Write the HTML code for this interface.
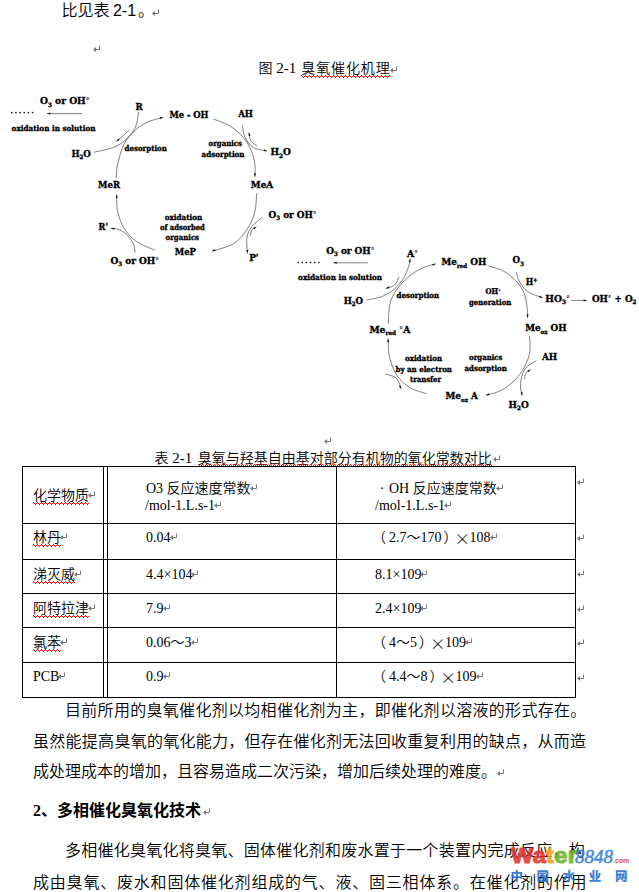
<!DOCTYPE html>
<html lang="zh">
<head>
<meta charset="utf-8">
<title>臭氧催化机理</title>
<style>
html,body{margin:0;padding:0;background:#fff;}
body{width:639px;height:892px;position:relative;overflow:hidden;color:#000;
  font-family:"Liberation Serif","Noto Serif CJK SC",serif;}
.abs{position:absolute;white-space:nowrap;line-height:1;}
.body16{font-weight:350;font-size:16px;font-family:"Liberation Serif","Noto Sans CJK SC",sans-serif;}
.t14{font-weight:350;font-size:14px;font-family:"Liberation Serif","Noto Sans CJK SC",sans-serif;}
.pm{color:#7a7a7a;font-family:"DejaVu Sans",sans-serif;font-size:9px;}
.wavy{position:relative;display:inline-block;}
.wavy svg{position:absolute;left:0;bottom:-2px;width:100%;height:3px;display:block;}
.pmb{display:block;}
.pmi{display:inline-block;vertical-align:1px;margin-left:-1px;}
.lp{margin-left:-3px;margin-right:3px;}
.rp{margin-left:2px;margin-right:-2px;}
.fx{display:inline-block;vertical-align:top;height:14px;width:14px;margin-left:-1px;margin-right:1px;text-align:center;font-size:15.5px;line-height:14px;font-weight:300;font-family:"Noto Sans CJK SC",sans-serif;}
.fd{display:inline-block;width:14px;text-align:center;}
.hl{position:absolute;background:#000;height:1px;}
.vl{position:absolute;background:#000;width:1px;}
#dia{position:absolute;left:0;top:0;}
#dia text{font-family:"DejaVu Serif Condensed","DejaVu Serif","Liberation Serif",serif;font-weight:bold;fill:#000;stroke:#000;stroke-width:0.32px;}
</style>
</head>
<body>
<svg width="0" height="0" style="position:absolute"><defs><pattern id="zz" width="4" height="3" patternUnits="userSpaceOnUse"><path d="M0,0h1v1h-1zM1,1h1v1h-1zM2,2h1v1h-1zM3,1h1v1h-1z" fill="#ff0000" shape-rendering="crispEdges"/></pattern></defs></svg>
<!-- top line -->
<div class="abs" style="left:61.5px;top:3px;font-size:16px;font-weight:350;font-family:'Liberation Sans','Noto Sans CJK SC',sans-serif;"><span>比见表</span><span style="margin-left:-1px;"> 2-1</span><span style="margin-left:2px;">。</span></div>
<div class="abs" style="left:152px;top:9px;"><svg class="pmb" width="8" height="8" viewBox="0 0 8 8"><path d="M6.5 0.5v4H2" stroke="#777" fill="none" stroke-width="1"/><path d="M0 4.5l3-2.6v5.2z" fill="#777"/></svg></div>
<div class="abs" style="left:93px;top:45px;"><svg class="pmb" width="8" height="8" viewBox="0 0 8 8"><path d="M6.5 0.5v4H2" stroke="#777" fill="none" stroke-width="1"/><path d="M0 4.5l3-2.6v5.2z" fill="#777"/></svg></div>
<div class="abs t14" style="left:258.5px;top:61px;">图<span style="font-size:15px;"> 2-1</span><span style="margin-left:5px;letter-spacing:0.9px;" class="wavy">臭氧催化机理<svg><rect width="100%" height="3" fill="url(#zz)"/></svg></span></div>
<div class="abs" style="left:390px;top:66px;"><svg class="pmb" width="8" height="8" viewBox="0 0 8 8"><path d="M6.5 0.5v4H2" stroke="#777" fill="none" stroke-width="1"/><path d="M0 4.5l3-2.6v5.2z" fill="#777"/></svg></div>

<!-- diagrams -->
<svg id="dia" width="639" height="460" viewBox="0 0 639 460">
<g fill="none" stroke="#303030" stroke-width="0.62">
<path d="M116.3,178.3 C116.5,176.1 116.2,170.6 117.5,165.0 C118.8,159.4 120.9,150.3 123.8,144.5 C126.7,138.7 131.0,134.2 135.0,130.4 C139.0,126.7 143.3,124.2 148.0,122.0 C152.7,119.8 160.8,118.0 163.3,117.2"/>
<path d="M213.5,119.0 C216.2,120.2 225.1,123.0 230.0,126.0 C234.9,129.1 239.6,133.1 243.2,137.3 C246.8,141.5 249.7,146.9 251.6,151.3 C253.5,155.8 254.2,159.8 254.8,164.0 C255.4,168.2 255.0,174.6 255.0,176.7"/>
<path d="M256.8,193.1 C256.4,196.4 256.2,206.9 254.6,212.9 C253.0,218.9 250.5,224.2 247.0,229.3 C243.5,234.4 239.7,239.8 233.8,243.5 C228.0,247.2 215.6,249.9 211.9,251.2"/>
<path d="M155.1,250.4 C152.0,248.9 141.5,245.1 136.3,241.4 C131.1,237.7 127.2,233.2 124.1,228.2 C121.0,223.2 118.8,216.9 117.6,211.3 C116.3,205.7 116.8,197.2 116.6,194.4"/>
<path d="M138.5,112.0 C138.1,114.3 137.5,121.7 136.0,125.7 C134.5,129.7 132.8,132.6 129.5,136.0 C126.2,139.4 122.2,143.6 116.3,146.3 C110.4,149.0 97.7,151.3 94.0,152.3"/>
<path d="M129.5,130.0 C127.3,131.9 118.5,139.7 116.3,141.6"/>
<path d="M242.3,125.4 C242.8,127.4 243.1,133.6 245.0,137.3 C246.9,141.0 249.8,145.3 253.5,147.6 C257.2,149.9 264.9,150.4 267.2,151.0"/>
<path d="M257.3,145.7 C256.2,144.9 252.4,143.2 251.0,141.0 C249.6,138.8 249.2,134.0 248.8,132.6"/>
<path d="M262.3,217.2 C260.7,218.7 255.0,222.7 252.4,226.0 C249.8,229.3 247.8,232.4 247.0,237.0 C246.2,241.6 247.3,250.7 247.4,253.4"/>
<path d="M250.3,235.9 C250.6,234.9 251.0,231.5 252.0,230.0 C253.0,228.5 255.7,227.2 256.4,226.7"/>
<path d="M135.0,252.6 C134.8,251.2 134.8,247.2 133.5,244.2 C132.2,241.2 129.3,237.2 127.0,234.8 C124.7,232.4 122.1,230.8 119.4,229.7 C116.7,228.6 112.4,228.4 111.0,228.2"/>
<path d="M82.0,113.6 C76.2,113.6 52.8,113.6 47.0,113.6"/>
<path d="M388.2,323.6 C388.5,320.3 388.6,309.4 390.0,303.8 C391.4,298.2 393.5,294.3 396.6,289.8 C399.7,285.3 404.6,280.2 408.8,276.6 C413.0,273.0 417.5,270.3 422.0,268.2 C426.5,266.1 433.4,264.5 435.7,263.8"/>
<path d="M488.6,265.9 C491.0,266.8 498.9,268.8 503.2,271.0 C507.5,273.2 511.2,276.1 514.5,279.4 C517.8,282.7 521.0,286.6 523.0,290.7 C525.0,294.8 525.9,299.3 526.7,303.8 C527.5,308.3 527.5,315.5 527.7,317.9"/>
<path d="M529.5,336.0 C529.5,338.6 530.6,346.7 529.8,351.9 C528.9,357.1 526.9,362.4 524.4,367.2 C521.9,371.9 518.4,376.5 514.5,380.4 C510.6,384.2 506.1,387.8 501.3,390.3 C496.6,392.8 488.6,394.5 486.0,395.3"/>
<path d="M426.8,393.8 C424.1,392.8 415.3,390.9 410.4,387.9 C405.5,384.9 400.7,381.0 397.2,375.9 C393.7,370.8 391.1,363.4 389.6,357.2 C388.1,351.0 388.3,341.7 388.0,338.6"/>
<path d="M366.6,300.1 C369.2,299.5 377.6,298.3 382.5,296.3 C387.4,294.3 391.9,291.3 395.7,287.9 C399.4,284.5 402.8,279.6 405.0,275.7 C407.2,271.8 408.3,267.2 409.2,264.4 C410.1,261.6 410.0,259.7 410.1,258.8"/>
<path d="M398.9,276.6 C398.2,278.0 396.9,283.0 394.7,285.0 C392.5,287.0 387.4,287.9 385.9,288.5"/>
<path d="M516.4,272.3 C516.9,273.8 517.3,278.1 519.2,281.3 C521.1,284.5 523.8,288.9 527.7,291.6 C531.6,294.4 540.2,296.8 542.7,297.8"/>
<path d="M536.4,360.7 C534.9,361.6 530.0,363.8 527.6,366.2 C525.2,368.6 523.4,371.4 522.2,374.9 C521.0,378.4 520.6,383.5 520.6,387.0 C520.6,390.5 521.9,394.2 522.2,395.7"/>
<path d="M524.4,379.3 C524.7,378.2 525.0,374.6 526.0,373.0 C527.0,371.4 529.8,370.0 530.5,369.4"/>
<path d="M385.2,374.1 C387.0,374.8 393.5,375.5 396.2,378.0 C398.9,380.5 400.4,387.2 401.2,389.0"/>
<path d="M571.2,300.4 C573.8,300.4 584.4,300.4 587.0,300.4"/>
<path d="M367.8,262.8 C362.1,262.8 339.1,262.8 333.4,262.8"/>
</g><g fill="#111" stroke="none">
<polygon points="163.3,117.2 160.4,119.2 159.8,117.3"/>
<polygon points="255.0,176.7 253.9,173.3 255.9,173.3"/>
<polygon points="211.9,251.2 214.8,249.1 215.4,251.0"/>
<polygon points="116.6,194.4 117.8,197.7 115.8,197.9"/>
<polygon points="116.3,141.6 118.2,138.6 119.5,140.1"/>
<polygon points="267.2,151.0 263.7,151.2 264.1,149.2"/>
<polygon points="248.8,132.6 250.6,135.6 248.7,136.1"/>
<polygon points="247.4,253.4 246.3,250.0 248.3,250.0"/>
<polygon points="256.4,226.7 254.3,229.5 253.1,227.9"/>
<polygon points="111.0,228.2 114.5,227.8 114.2,229.8"/>
<polygon points="47.0,113.6 50.4,112.6 50.4,114.6"/>
<polygon points="435.7,263.8 432.8,265.8 432.2,263.9"/>
<polygon points="527.7,317.9 526.5,314.6 528.5,314.4"/>
<polygon points="486.0,395.3 488.9,393.3 489.5,395.2"/>
<polygon points="388.0,338.6 389.3,341.9 387.3,342.1"/>
<polygon points="410.1,258.8 410.5,262.3 408.6,262.0"/>
<polygon points="385.9,288.5 388.7,286.3 389.4,288.2"/>
<polygon points="542.7,297.8 539.2,297.4 539.9,295.6"/>
<polygon points="522.2,395.7 520.6,392.5 522.6,392.2"/>
<polygon points="530.5,369.4 528.5,372.3 527.2,370.7"/>
<polygon points="401.2,389.0 398.9,386.3 400.7,385.5"/>
<polygon points="587.0,300.4 583.6,301.4 583.6,299.4"/>
<polygon points="333.4,262.8 336.8,261.8 336.8,263.8"/>
<rect x="11.0" y="111.9" width="1.5" height="1.4"/>
<rect x="15.2" y="111.9" width="1.5" height="1.4"/>
<rect x="19.3" y="111.9" width="1.5" height="1.4"/>
<rect x="23.5" y="111.9" width="1.5" height="1.4"/>
<rect x="27.6" y="111.9" width="1.5" height="1.4"/>
<rect x="31.8" y="111.9" width="1.5" height="1.4"/>
<rect x="297.4" y="261.8" width="1.5" height="1.4"/>
<rect x="301.5" y="261.8" width="1.5" height="1.4"/>
<rect x="305.7" y="261.8" width="1.5" height="1.4"/>
<rect x="309.8" y="261.8" width="1.5" height="1.4"/>
<rect x="314.0" y="261.8" width="1.5" height="1.4"/>
<rect x="318.1" y="261.8" width="1.5" height="1.4"/>
</g>
<text id="t0" transform="translate(40.00,104.30) scale(1.0578,1)" font-size="9.6" textLength="46.80" lengthAdjust="spacingAndGlyphs">O<tspan dy="2.50" font-size="5.95">3</tspan><tspan dy="-2.50"> or OH</tspan><tspan dy="-0.96" font-size="7.87" style="font-weight:normal;stroke-width:0.1px">°</tspan></text>
<text id="t1" transform="translate(135.50,109.50) scale(0.9000,1)" font-size="9.6" textLength="8.00" lengthAdjust="spacingAndGlyphs">R</text>
<text id="t2" transform="translate(169.40,118.30) scale(0.9699,1)" font-size="9.6" textLength="40.31" lengthAdjust="spacingAndGlyphs">Me - OH</text>
<text id="t3" transform="translate(238.20,116.80) scale(0.9332,1)" font-size="9.6" textLength="15.86" lengthAdjust="spacingAndGlyphs">AH</text>
<text id="t4" transform="translate(71.40,156.60) scale(0.9761,1)" font-size="9.6" textLength="19.88" lengthAdjust="spacingAndGlyphs">H<tspan dy="2.50" font-size="5.95">2</tspan><tspan dy="-2.50">O</tspan></text>
<text id="t5" transform="translate(98.00,188.40) scale(0.9546,1)" font-size="9.6" textLength="23.05" lengthAdjust="spacingAndGlyphs">MeR</text>
<text id="t6" transform="translate(98.60,229.60) scale(0.9564,1)" font-size="9.6" textLength="9.83" lengthAdjust="spacingAndGlyphs">R'</text>
<text id="t7" transform="translate(110.50,263.90) scale(1.0364,1)" font-size="9.6" textLength="46.80" lengthAdjust="spacingAndGlyphs">O<tspan dy="2.50" font-size="5.95">3</tspan><tspan dy="-2.50"> or OH</tspan><tspan dy="-0.96" font-size="7.87" style="font-weight:normal;stroke-width:0.1px">°</tspan></text>
<text id="t8" transform="translate(174.70,255.10) scale(0.9661,1)" font-size="9.6" textLength="22.05" lengthAdjust="spacingAndGlyphs">MeP</text>
<text id="t9" transform="translate(270.50,155.30) scale(1.0214,1)" font-size="9.6" textLength="19.88" lengthAdjust="spacingAndGlyphs">H<tspan dy="2.50" font-size="5.95">2</tspan><tspan dy="-2.50">O</tspan></text>
<text id="t10" transform="translate(250.80,187.80) scale(1.0206,1)" font-size="9.6" textLength="22.05" lengthAdjust="spacingAndGlyphs">MeA</text>
<text id="t11" transform="translate(268.60,217.60) scale(1.0236,1)" font-size="9.6" textLength="46.80" lengthAdjust="spacingAndGlyphs">O<tspan dy="2.50" font-size="5.95">3</tspan><tspan dy="-2.50"> or OH</tspan><tspan dy="-0.96" font-size="7.87" style="font-weight:normal;stroke-width:0.1px">°</tspan></text>
<text id="t12" transform="translate(249.20,261.30) scale(1.0284,1)" font-size="9.6" textLength="9.14" lengthAdjust="spacingAndGlyphs">P'</text>
<text id="t13" transform="translate(11.60,130.90) scale(1.0185,1)" font-size="7.9" textLength="82.38" lengthAdjust="spacingAndGlyphs">oxidation in solution</text>
<text id="t14" transform="translate(124.60,150.80) scale(0.9861,1)" font-size="7.9" textLength="42.80" lengthAdjust="spacingAndGlyphs">desorption</text>
<text id="t15" transform="translate(208.50,146.30) scale(0.9789,1)" font-size="7.9" textLength="34.22" lengthAdjust="spacingAndGlyphs">organics</text>
<text id="t16" transform="translate(201.60,157.30) scale(1.0006,1)" font-size="7.9" textLength="42.88" lengthAdjust="spacingAndGlyphs">adsorption</text>
<text id="t17" transform="translate(164.70,219.80) scale(1.0132,1)" font-size="7.9" textLength="37.11" lengthAdjust="spacingAndGlyphs">oxidation</text>
<text id="t18" transform="translate(160.00,230.20) scale(0.9579,1)" font-size="7.9" textLength="46.77" lengthAdjust="spacingAndGlyphs">of adsorbed</text>
<text id="t19" transform="translate(165.60,239.80) scale(0.9760,1)" font-size="7.9" textLength="34.22" lengthAdjust="spacingAndGlyphs">organics</text>
<text id="t20" transform="translate(326.20,253.80) scale(1.0300,1)" font-size="9.6" textLength="46.80" lengthAdjust="spacingAndGlyphs">O<tspan dy="2.50" font-size="5.95">3</tspan><tspan dy="-2.50"> or OH</tspan><tspan dy="-0.96" font-size="7.87" style="font-weight:normal;stroke-width:0.1px">°</tspan></text>
<text id="t21" transform="translate(407.00,256.70) scale(0.9778,1)" font-size="9.6" textLength="11.25" lengthAdjust="spacingAndGlyphs">A<tspan dy="-0.96" font-size="7.87" style="font-weight:normal;stroke-width:0.1px">°</tspan></text>
<text id="t22" transform="translate(441.50,265.20) scale(1.0255,1)" font-size="9.6" textLength="43.69" lengthAdjust="spacingAndGlyphs">Me<tspan dy="2.50" font-size="5.95">red</tspan><tspan dy="-2.50"> OH</tspan></text>
<text id="t23" transform="translate(512.60,263.30) scale(0.9799,1)" font-size="9.6" textLength="11.53" lengthAdjust="spacingAndGlyphs">O<tspan dy="2.50" font-size="5.95">3</tspan></text>
<text id="t24" transform="translate(525.80,285.20) scale(0.9177,1)" font-size="9.6" textLength="12.64" lengthAdjust="spacingAndGlyphs">H<tspan dy="-3.46" font-size="5.95">+</tspan></text>
<text id="t25" transform="translate(545.30,301.80) scale(1.0630,1)" font-size="9.6" textLength="22.95" lengthAdjust="spacingAndGlyphs">HO<tspan dy="2.50" font-size="5.95">3</tspan><tspan dy="-3.46" font-size="7.87" style="font-weight:normal;stroke-width:0.1px">°</tspan></text>
<text id="t26" transform="translate(591.90,301.80) scale(1.0114,1)" font-size="9.6" textLength="44.00" lengthAdjust="spacingAndGlyphs">OH<tspan dy="-0.96" font-size="7.87" style="font-weight:normal;stroke-width:0.1px">°</tspan><tspan dy="0.96"> + O</tspan><tspan dy="2.50" font-size="5.95">2</tspan></text>
<text id="t27" transform="translate(343.70,303.80) scale(0.9711,1)" font-size="9.6" textLength="19.88" lengthAdjust="spacingAndGlyphs">H<tspan dy="2.50" font-size="5.95">2</tspan><tspan dy="-2.50">O</tspan></text>
<text id="t28" transform="translate(369.40,332.50) scale(1.0606,1)" font-size="9.6" textLength="38.56" lengthAdjust="spacingAndGlyphs">Me<tspan dy="2.50" font-size="5.95">red</tspan><tspan dy="-2.50"> </tspan><tspan dy="-0.96" font-size="7.87" style="font-weight:normal;stroke-width:0.1px">°</tspan><tspan dy="0.96">A</tspan></text>
<text id="t29" transform="translate(525.20,331.00) scale(1.0201,1)" font-size="9.6" textLength="40.48" lengthAdjust="spacingAndGlyphs">Me<tspan dy="2.50" font-size="5.95">ox</tspan><tspan dy="-2.50"> OH</tspan></text>
<text id="t30" transform="translate(541.90,360.00) scale(0.9647,1)" font-size="9.6" textLength="15.86" lengthAdjust="spacingAndGlyphs">AH</text>
<text id="t31" transform="translate(445.50,399.00) scale(1.0220,1)" font-size="9.6" textLength="31.80" lengthAdjust="spacingAndGlyphs">Me<tspan dy="2.50" font-size="5.95">ox</tspan><tspan dy="-2.50"> A</tspan></text>
<text id="t32" transform="translate(508.60,407.60) scale(1.0113,1)" font-size="9.6" textLength="19.88" lengthAdjust="spacingAndGlyphs">H<tspan dy="2.50" font-size="5.95">2</tspan><tspan dy="-2.50">O</tspan></text>
<text id="t33" transform="translate(298.10,280.00) scale(1.0185,1)" font-size="7.9" textLength="82.38" lengthAdjust="spacingAndGlyphs">oxidation in solution</text>
<text id="t34" transform="translate(396.60,298.10) scale(0.9954,1)" font-size="7.9" textLength="42.80" lengthAdjust="spacingAndGlyphs">desorption</text>
<text id="t35" transform="translate(485.40,294.40) scale(0.9807,1)" font-size="7.9" textLength="15.91" lengthAdjust="spacingAndGlyphs">OH<tspan dy="-0.79" font-size="6.48" style="font-weight:normal;stroke-width:0.1px">°</tspan></text>
<text id="t36" transform="translate(469.00,304.70) scale(0.9752,1)" font-size="7.9" textLength="43.38" lengthAdjust="spacingAndGlyphs">generation</text>
<text id="t37" transform="translate(469.10,360.30) scale(0.9731,1)" font-size="7.9" textLength="34.22" lengthAdjust="spacingAndGlyphs">organics</text>
<text id="t38" transform="translate(464.50,371.10) scale(0.9866,1)" font-size="7.9" textLength="42.88" lengthAdjust="spacingAndGlyphs">adsorption</text>
<text id="t39" transform="translate(404.90,361.10) scale(1.0051,1)" font-size="7.9" textLength="37.11" lengthAdjust="spacingAndGlyphs">oxidation</text>
<text id="t40" transform="translate(395.50,372.10) scale(0.9953,1)" font-size="7.9" textLength="56.77" lengthAdjust="spacingAndGlyphs">by an electron</text>
<text id="t41" transform="translate(410.00,382.40) scale(0.9584,1)" font-size="7.9" textLength="32.35" lengthAdjust="spacingAndGlyphs">transfer</text>
</svg>

<!-- table caption -->
<div class="abs" style="left:324px;top:437px;"><svg class="pmb" width="8" height="8" viewBox="0 0 8 8"><path d="M6.5 0.5v4H2" stroke="#777" fill="none" stroke-width="1"/><path d="M0 4.5l3-2.6v5.2z" fill="#777"/></svg></div>
<div class="abs t14" style="left:154.5px;top:451px;">表<span style="font-size:15px;"> 2-1</span><span class="wavy" style="margin-left:5.5px;">臭氧与羟基自由基对部分有机物的氧化常数对比<svg style="bottom:-1px"><rect width="100%" height="3" fill="url(#zz)"/></svg></span></div>
<div class="abs" style="left:493px;top:455px;"><svg class="pmb" width="8" height="8" viewBox="0 0 8 8"><path d="M6.5 0.5v4H2" stroke="#777" fill="none" stroke-width="1"/><path d="M0 4.5l3-2.6v5.2z" fill="#777"/></svg></div>

<!-- table -->
<div id="tbl">
<div class="hl" style="left:22px;top:466px;width:554px;"></div>
<div class="hl" style="left:22px;top:523px;width:554px;"></div>
<div class="hl" style="left:22px;top:559px;width:554px;"></div>
<div class="hl" style="left:22px;top:593px;width:554px;"></div>
<div class="hl" style="left:22px;top:627px;width:554px;"></div>
<div class="hl" style="left:22px;top:662px;width:554px;"></div>
<div class="hl" style="left:22px;top:697px;width:554px;"></div>
<div class="vl" style="left:22px;top:466px;height:232px;"></div>
<div class="vl" style="left:103px;top:466px;height:232px;"></div>
<div class="vl" style="left:107px;top:466px;height:232px;"></div>
<div class="vl" style="left:336px;top:466px;height:232px;"></div>
<div class="vl" style="left:575px;top:466px;height:232px;"></div>
<div class="abs t14" style="left:33px;top:489px;"><span class="wavy">化学物质<svg><rect width="100%" height="3" fill="url(#zz)"/></svg></span><svg class="pmi" width="8" height="8" viewBox="0 0 8 8"><path d="M6.5 0.5v4H2" stroke="#777" fill="none" stroke-width="1"/><path d="M0 4.5l3-2.6v5.2z" fill="#777"/></svg></div>
<div class="abs t14" style="left:146px;top:482px;">O3 反应速度常数<svg class="pmi" width="8" height="8" viewBox="0 0 8 8"><path d="M6.5 0.5v4H2" stroke="#777" fill="none" stroke-width="1"/><path d="M0 4.5l3-2.6v5.2z" fill="#777"/></svg></div>
<div class="abs t14" style="left:145px;top:499px;">/mol-1.L.s-1<svg class="pmi" width="8" height="8" viewBox="0 0 8 8"><path d="M6.5 0.5v4H2" stroke="#777" fill="none" stroke-width="1"/><path d="M0 4.5l3-2.6v5.2z" fill="#777"/></svg></div>
<div class="abs t14" style="left:375px;top:482px;"><span class="fd">·</span>OH 反应速度常数<svg class="pmi" width="8" height="8" viewBox="0 0 8 8"><path d="M6.5 0.5v4H2" stroke="#777" fill="none" stroke-width="1"/><path d="M0 4.5l3-2.6v5.2z" fill="#777"/></svg></div>
<div class="abs t14" style="left:375px;top:499px;">/mol-1.L.s-1<svg class="pmi" width="8" height="8" viewBox="0 0 8 8"><path d="M6.5 0.5v4H2" stroke="#777" fill="none" stroke-width="1"/><path d="M0 4.5l3-2.6v5.2z" fill="#777"/></svg></div>
<div class="abs t14" style="left:33px;top:531px;"><span class="wavy">林丹<svg><rect width="100%" height="3" fill="url(#zz)"/></svg></span><svg class="pmi" width="8" height="8" viewBox="0 0 8 8"><path d="M6.5 0.5v4H2" stroke="#777" fill="none" stroke-width="1"/><path d="M0 4.5l3-2.6v5.2z" fill="#777"/></svg></div>
<div class="abs t14" style="left:146px;top:531px;">0.04<svg class="pmi" width="8" height="8" viewBox="0 0 8 8"><path d="M6.5 0.5v4H2" stroke="#777" fill="none" stroke-width="1"/><path d="M0 4.5l3-2.6v5.2z" fill="#777"/></svg></div>
<div class="abs t14" style="left:375px;top:531px;"><span class="lp">（</span>2.7～170<span class="rp">）</span><span class="fx">×</span>108<svg class="pmi" width="8" height="8" viewBox="0 0 8 8"><path d="M6.5 0.5v4H2" stroke="#777" fill="none" stroke-width="1"/><path d="M0 4.5l3-2.6v5.2z" fill="#777"/></svg></div>
<div class="abs t14" style="left:33px;top:568px;"><span class="wavy">涕灭威<svg><rect width="100%" height="3" fill="url(#zz)"/></svg></span><svg class="pmi" width="8" height="8" viewBox="0 0 8 8"><path d="M6.5 0.5v4H2" stroke="#777" fill="none" stroke-width="1"/><path d="M0 4.5l3-2.6v5.2z" fill="#777"/></svg></div>
<div class="abs t14" style="left:146px;top:568px;">4.4×104<svg class="pmi" width="8" height="8" viewBox="0 0 8 8"><path d="M6.5 0.5v4H2" stroke="#777" fill="none" stroke-width="1"/><path d="M0 4.5l3-2.6v5.2z" fill="#777"/></svg></div>
<div class="abs t14" style="left:375px;top:568px;">8.1×109<svg class="pmi" width="8" height="8" viewBox="0 0 8 8"><path d="M6.5 0.5v4H2" stroke="#777" fill="none" stroke-width="1"/><path d="M0 4.5l3-2.6v5.2z" fill="#777"/></svg></div>
<div class="abs t14" style="left:33px;top:602px;"><span class="wavy">阿特拉津<svg><rect width="100%" height="3" fill="url(#zz)"/></svg></span><svg class="pmi" width="8" height="8" viewBox="0 0 8 8"><path d="M6.5 0.5v4H2" stroke="#777" fill="none" stroke-width="1"/><path d="M0 4.5l3-2.6v5.2z" fill="#777"/></svg></div>
<div class="abs t14" style="left:146px;top:602px;">7.9<svg class="pmi" width="8" height="8" viewBox="0 0 8 8"><path d="M6.5 0.5v4H2" stroke="#777" fill="none" stroke-width="1"/><path d="M0 4.5l3-2.6v5.2z" fill="#777"/></svg></div>
<div class="abs t14" style="left:375px;top:602px;">2.4×109<svg class="pmi" width="8" height="8" viewBox="0 0 8 8"><path d="M6.5 0.5v4H2" stroke="#777" fill="none" stroke-width="1"/><path d="M0 4.5l3-2.6v5.2z" fill="#777"/></svg></div>
<div class="abs t14" style="left:33px;top:636px;"><span class="wavy">氯苯<svg><rect width="100%" height="3" fill="url(#zz)"/></svg></span><svg class="pmi" width="8" height="8" viewBox="0 0 8 8"><path d="M6.5 0.5v4H2" stroke="#777" fill="none" stroke-width="1"/><path d="M0 4.5l3-2.6v5.2z" fill="#777"/></svg></div>
<div class="abs t14" style="left:146px;top:636px;">0.06～3<svg class="pmi" width="8" height="8" viewBox="0 0 8 8"><path d="M6.5 0.5v4H2" stroke="#777" fill="none" stroke-width="1"/><path d="M0 4.5l3-2.6v5.2z" fill="#777"/></svg></div>
<div class="abs t14" style="left:375px;top:636px;"><span class="lp">（</span>4～5<span class="rp">）</span><span class="fx">×</span>109<svg class="pmi" width="8" height="8" viewBox="0 0 8 8"><path d="M6.5 0.5v4H2" stroke="#777" fill="none" stroke-width="1"/><path d="M0 4.5l3-2.6v5.2z" fill="#777"/></svg></div>
<div class="abs t14" style="left:33px;top:670px;">PCB<svg class="pmi" width="8" height="8" viewBox="0 0 8 8"><path d="M6.5 0.5v4H2" stroke="#777" fill="none" stroke-width="1"/><path d="M0 4.5l3-2.6v5.2z" fill="#777"/></svg></div>
<div class="abs t14" style="left:146px;top:670px;">0.9<svg class="pmi" width="8" height="8" viewBox="0 0 8 8"><path d="M6.5 0.5v4H2" stroke="#777" fill="none" stroke-width="1"/><path d="M0 4.5l3-2.6v5.2z" fill="#777"/></svg></div>
<div class="abs t14" style="left:375px;top:670px;"><span class="lp">（</span>4.4～8<span class="rp">）</span><span class="fx">×</span>109<svg class="pmi" width="8" height="8" viewBox="0 0 8 8"><path d="M6.5 0.5v4H2" stroke="#777" fill="none" stroke-width="1"/><path d="M0 4.5l3-2.6v5.2z" fill="#777"/></svg></div>
<div class="abs" style="left:577px;top:478px;"><svg class="pmb" width="8" height="8" viewBox="0 0 8 8"><path d="M6.5 0.5v4H2" stroke="#777" fill="none" stroke-width="1"/><path d="M0 4.5l3-2.6v5.2z" fill="#777"/></svg></div>
<div class="abs" style="left:577px;top:534px;"><svg class="pmb" width="8" height="8" viewBox="0 0 8 8"><path d="M6.5 0.5v4H2" stroke="#777" fill="none" stroke-width="1"/><path d="M0 4.5l3-2.6v5.2z" fill="#777"/></svg></div>
<div class="abs" style="left:577px;top:570px;"><svg class="pmb" width="8" height="8" viewBox="0 0 8 8"><path d="M6.5 0.5v4H2" stroke="#777" fill="none" stroke-width="1"/><path d="M0 4.5l3-2.6v5.2z" fill="#777"/></svg></div>
<div class="abs" style="left:577px;top:605px;"><svg class="pmb" width="8" height="8" viewBox="0 0 8 8"><path d="M6.5 0.5v4H2" stroke="#777" fill="none" stroke-width="1"/><path d="M0 4.5l3-2.6v5.2z" fill="#777"/></svg></div>
<div class="abs" style="left:577px;top:639px;"><svg class="pmb" width="8" height="8" viewBox="0 0 8 8"><path d="M6.5 0.5v4H2" stroke="#777" fill="none" stroke-width="1"/><path d="M0 4.5l3-2.6v5.2z" fill="#777"/></svg></div>
<div class="abs" style="left:577px;top:674px;"><svg class="pmb" width="8" height="8" viewBox="0 0 8 8"><path d="M6.5 0.5v4H2" stroke="#777" fill="none" stroke-width="1"/><path d="M0 4.5l3-2.6v5.2z" fill="#777"/></svg></div>
</div>

<!-- body text -->
<div class="abs body16" style="left:65px;top:703px;letter-spacing:0.3px;">目前所用的臭氧催化剂以均相催化剂为主，即催化剂以溶液的形式存在。</div>
<div class="abs body16" style="left:33px;top:734px;letter-spacing:0.276px;">虽然能提高臭氧的氧化能力，但存在催化剂无法回收重复利用的缺点，从而造</div>
<div class="abs body16" style="left:33px;top:764px;">成处理成本的增加，且容易造成二次污染，增加后续处理的难度。</div>
<div class="abs" style="left:497px;top:769px;"><svg class="pmb" width="8" height="8" viewBox="0 0 8 8"><path d="M6.5 0.5v4H2" stroke="#777" fill="none" stroke-width="1"/><path d="M0 4.5l3-2.6v5.2z" fill="#777"/></svg></div>
<div class="abs body16" style="left:33px;top:803px;font-weight:bold;">2、多相催化臭氧化技术</div>
<div class="abs" style="left:203px;top:808px;"><svg class="pmb" width="8" height="8" viewBox="0 0 8 8"><path d="M6.5 0.5v4H2" stroke="#777" fill="none" stroke-width="1"/><path d="M0 4.5l3-2.6v5.2z" fill="#777"/></svg></div>
<div class="abs body16" style="left:65px;top:843px;letter-spacing:0.25px;">多相催化臭氧化将臭氧、固体催化剂和废水置于一个装置内完成反应，构</div>
<div class="abs body16" style="left:33px;top:875px;letter-spacing:0.8px;">成由臭氧、废水和固体催化剂组成的气、液、固三相体系。在催化剂的作用</div>
<!-- watermark -->
<div id="wm" style="position:absolute;left:0;top:0;opacity:0.88;">
<div class="abs" style="left:511px;top:843px;font:bold 22px 'Liberation Sans',sans-serif;letter-spacing:0.3px;-webkit-text-stroke:1.1px;transform-origin:0 0;transform:scaleX(1.07);"><span style="color:#e5342c">Wa</span><span style="color:#f2a21c">t</span><span style="color:#6db32a">er</span></div>
<div class="abs" style="left:575px;top:846px;font:italic 19px 'Liberation Serif',serif;color:#2b7bd3;-webkit-text-stroke:0.5px;">8848</div>
<div class="abs" style="left:613px;top:857px;font:bold 7px 'Liberation Sans',sans-serif;color:#e5342c;">.com</div>
<div class="abs" style="left:510.5px;top:865.5px;font:900 12.5px 'Liberation Sans','Noto Sans CJK SC',sans-serif;color:#1f6fd2;letter-spacing:13.6px;">中国水业网</div>
</div>
</body>
</html>
